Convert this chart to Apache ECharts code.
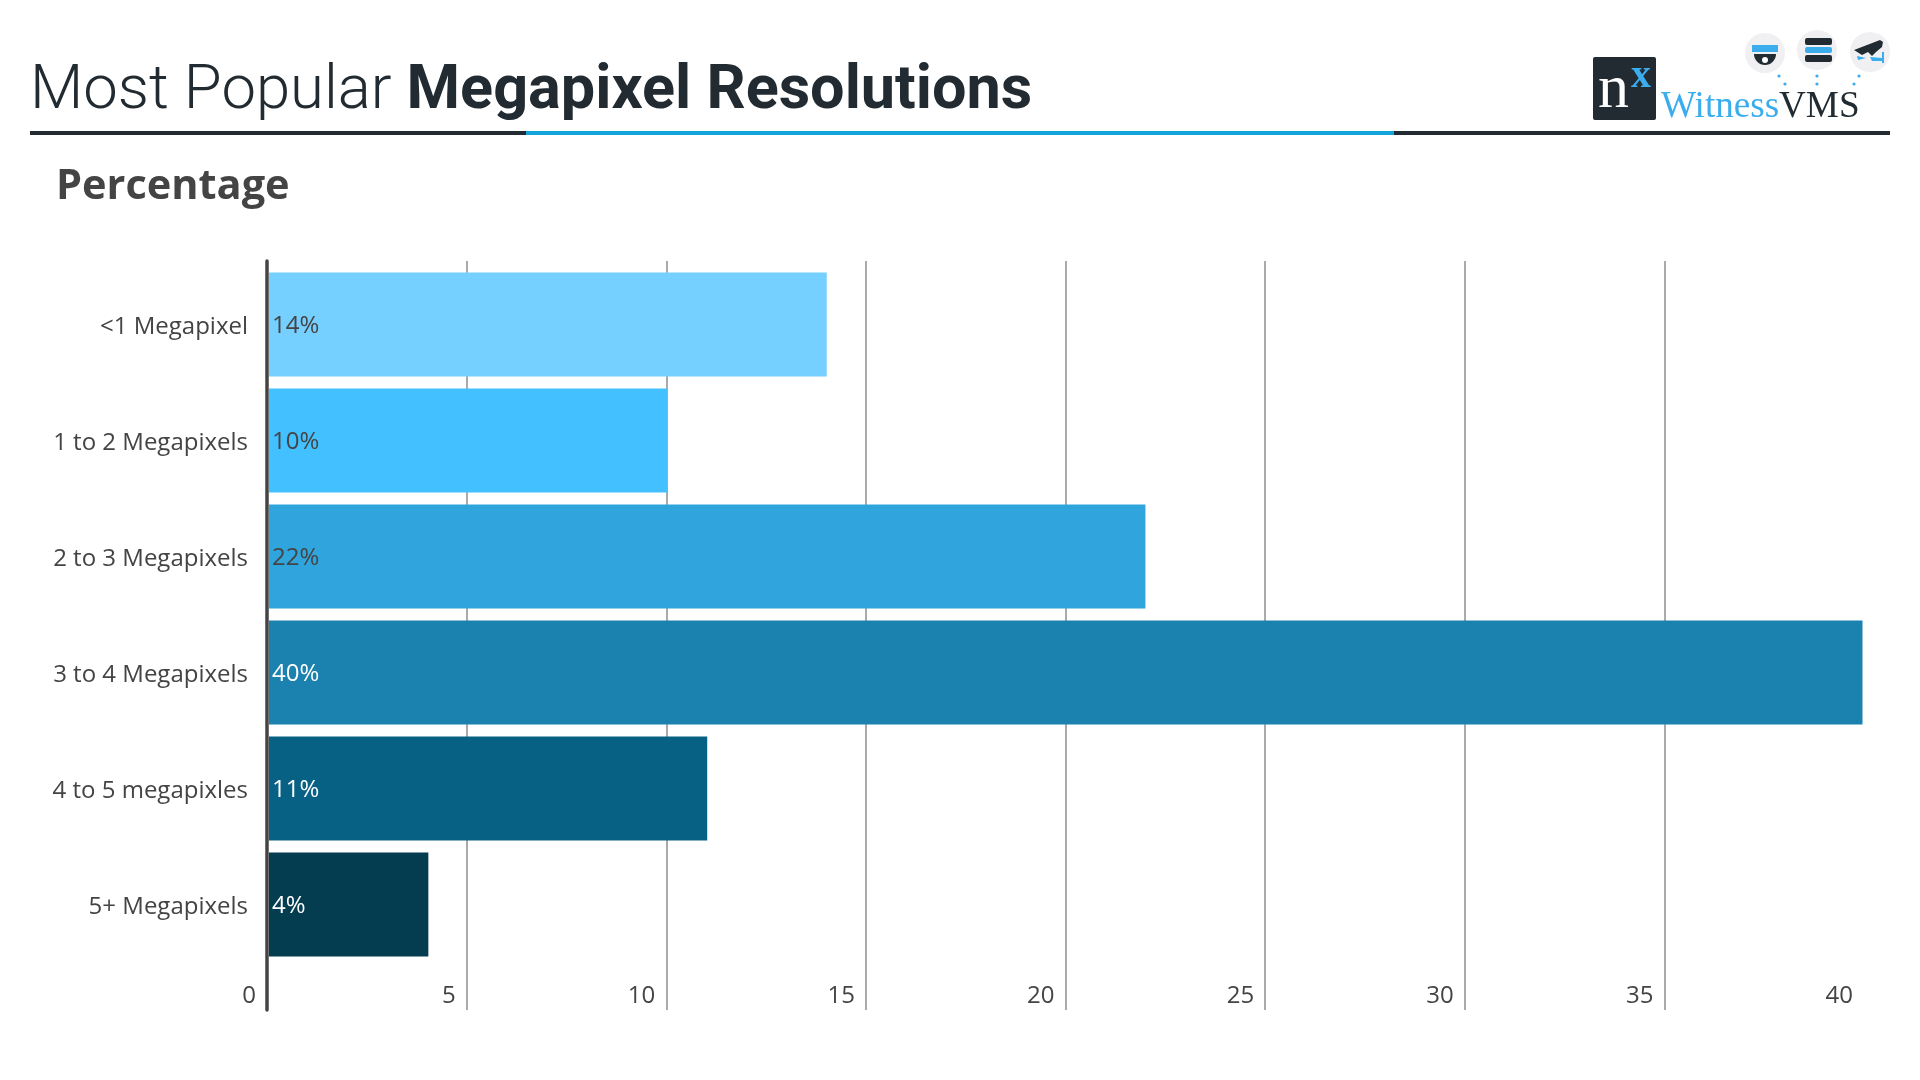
<!DOCTYPE html>
<html>
<head>
<meta charset="utf-8">
<title>Most Popular Megapixel Resolutions</title>
<script src="https://cdn.jsdelivr.net/npm/echarts@6/dist/echarts.min.js"></script>
<style>
  html, body { margin: 0; padding: 0; background: #fff; }
  #main { width: 1920px; height: 1080px; }
</style>
</head>
<body>
<div id="main"></div>
<script>
var categories = ['<1 Megapixel', '1 to 2 Megapixels', '2 to 3 Megapixels', '3 to 4 Megapixels', '4 to 5 megapixles', '5+ Megapixels'];
var percentages = [14, 10, 22, 40, 11, 4];
var axisMin = 0;
var axisMax = 40;
var axisStep = 5;

var barColors = ['#75cfff', '#43c0ff', '#2fa4dd', '#1b81ae', '#066184', '#043c50'];
var labelColors = ['#444444', '#444444', '#444444', '#ffffff', '#ffffff', '#ffffff'];

var dark = '#212b31';
var blue = '#3badec';

// header rule and the logo, top right
var logo = [
    { type: 'rect', shape: { x: 30, y: 131, width: 1860, height: 4 }, style: { fill: dark } },
    { type: 'rect', shape: { x: 526, y: 131, width: 868, height: 4 }, style: { fill: '#12a5dc' } },
    { type: 'rect', shape: { x: 1593, y: 57, width: 63, height: 63, r: 2 }, style: { fill: dark } },
    { type: 'text', style: { x: 1598, y: 60, text: 'n', fill: '#fff', font: '62px "Liberation Serif"' } },
    { type: 'text', style: { x: 1631, y: 57, text: 'x', fill: blue, font: 'bold 40px "Liberation Serif"' } },
    { type: 'text', style: { x: 1661, y: 89, text: 'Witness', fill: blue, font: '37.2px "Liberation Serif"' } },
    { type: 'text', style: { x: 1779, y: 89, text: 'VMS', fill: dark, font: '37.2px "Liberation Serif"' } },
    { type: 'circle', shape: { cx: 1765, cy: 53, r: 20 }, style: { fill: '#f0f0f2' } },
    { type: 'circle', shape: { cx: 1817, cy: 50, r: 20 }, style: { fill: '#f0f0f2' } },
    { type: 'circle', shape: { cx: 1870, cy: 52, r: 20 }, style: { fill: '#f0f0f2' } },
    { type: 'rect', shape: { x: 1752, y: 45, width: 26, height: 7 }, style: { fill: blue } },
    { type: 'sector', shape: { cx: 1765, cy: 54, r: 11, startAngle: 0, endAngle: Math.PI }, style: { fill: dark } },
    { type: 'circle', shape: { cx: 1765, cy: 60, r: 3 }, style: { fill: '#fff' } },
    { type: 'rect', shape: { x: 1805, y: 38, width: 27, height: 7, r: 2 }, style: { fill: dark } },
    { type: 'rect', shape: { x: 1805, y: 47, width: 27, height: 6, r: 2 }, style: { fill: blue } },
    { type: 'rect', shape: { x: 1805, y: 55, width: 27, height: 7, r: 2 }, style: { fill: dark } },
    { type: 'polygon', shape: { points: [[1854, 50], [1880, 40], [1883, 42], [1882, 47], [1876, 52], [1872, 56], [1868, 52], [1862, 55]] }, style: { fill: dark } },
    { type: 'polygon', shape: { points: [[1857, 56], [1866, 58], [1858, 60]] }, style: { fill: blue } },
    { type: 'polygon', shape: { points: [[1870, 57], [1882, 58], [1882, 52], [1884, 52], [1884, 63], [1882, 63], [1882, 61], [1872, 61]] }, style: { fill: blue } }
];
[[1779, 76], [1785, 84], [1817, 76], [1817, 84], [1859, 76], [1854, 84]].forEach(function (p) {
    logo.push({ type: 'circle', shape: { cx: p[0], cy: p[1], r: 1.6 }, style: { fill: blue } });
});

var myChart = echarts.init(document.getElementById('main'), null, { renderer: 'canvas' });
var option = {
    animation: false,
    backgroundColor: '#fff',
    title: [
        {
            left: 25,
            top: 57,
            text: '{l|Most Popular }{b|Megapixel Resolutions}',
            textStyle: {
                rich: {
                    l: { fontFamily: 'Roboto', fontWeight: 300, fontSize: 61.6, color: dark },
                    b: { fontFamily: 'Roboto', fontWeight: 700, fontSize: 61.2, color: dark }
                }
            }
        },
        {
            left: 51,
            top: 161,
            text: 'Percentage',
            textStyle: { fontFamily: 'Open Sans', fontWeight: 700, fontSize: 41.5, color: '#444' }
        }
    ],
    grid: [
        { left: 267, right: 56, top: 261, height: 749 },
        { left: 269, right: 57.5, top: 266.5, height: 696 }
    ],
    xAxis: [
        {
            gridIndex: 0,
            type: 'value',
            min: axisMin,
            max: axisMax,
            interval: axisStep,
            axisLine: { show: false },
            axisTick: { show: false },
            axisLabel: {
                inside: true,
                margin: 2,
                align: 'right',
                padding: [0, 11, 0, 0],
                fontFamily: 'Open Sans',
                fontSize: 24,
                color: '#444'
            },
            splitLine: { show: true, showMinLine: false, showMaxLine: false, lineStyle: { color: '#aaa', width: 2 } }
        },
        { gridIndex: 1, type: 'value', min: axisMin, max: axisMax, show: false, splitLine: { show: false } }
    ],
    yAxis: [
        {
            gridIndex: 0,
            type: 'value',
            min: 0,
            max: 1,
            z: 3,
            axisLine: { show: true, lineStyle: { color: '#444', width: 3.5 } },
            axisTick: { show: false },
            axisLabel: { show: false },
            splitLine: { show: false }
        },
        {
            gridIndex: 1,
            type: 'category',
            inverse: true,
            data: categories,
            axisLine: { show: false },
            axisTick: { show: false },
            axisLabel: {
                margin: 21,
                formatter: '{a|{value}}',
                rich: { a: { padding: [5, 0, 0, 0], fontFamily: 'Open Sans', fontSize: 24, color: '#444' } }
            }
        }
    ],
    series: [
        {
            type: 'bar',
            xAxisIndex: 1,
            yAxisIndex: 1,
            barWidth: 104,
            data: percentages.map(function (v, i) {
                return {
                    value: v,
                    itemStyle: { color: barColors[i] },
                    label: { color: labelColors[i] }
                };
            }),
            label: {
                show: true,
                position: 'insideLeft',
                distance: 3,
                offset: [0, 1.5],
                formatter: '{c}%',
                fontFamily: 'Open Sans',
                fontSize: 24
            }
        }
    ],
    graphic: logo
};
myChart.setOption(option);
</script>
</body>
</html>
